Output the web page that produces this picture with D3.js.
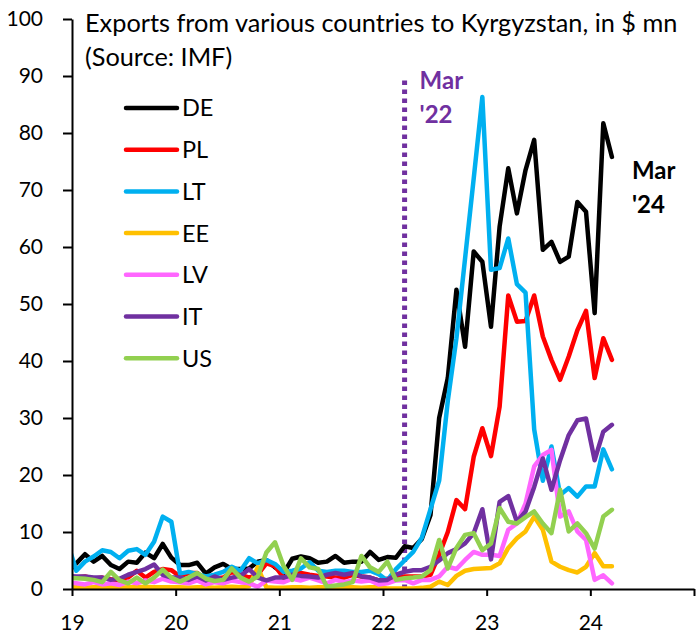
<!DOCTYPE html>
<html>
<head>
<meta charset="utf-8">
<script src="https://cdn.jsdelivr.net/npm/d3@7"></script>
<style>
body{margin:0;background:#fff;}
svg text{font-family:Lato,"Open Sans",sans-serif;fill:#000;}
</style>
</head>
<body>
<div id="chart"></div>
<script>
// monthly values, Dec 2018 .. Mar 2024 ($ mn). Dec 2018 lies left of the axis and is clipped
var startYear=2018, startMonth=12;
var countries=['DE','PL','LT','EE','LV','IT','US'];
var colors=['#000000','#FF0000','#00B0F0','#FFC000','#FF66FF','#7030A0','#92D050'];

var DE=[3.0,
    4.5,6.1,4.8,5.8,4.2,3.5,4.8,4.6,6.4,5.4,7.9,5.5,
    4.2,4.2,4.6,2.7,3.8,4.4,3.5,3.5,3.6,4.8,5.1,3.8,
    2.8,5.3,5.7,5.4,4.6,4.8,5.8,4.6,4.8,4.8,6.5,5.1,
    5.6,5.5,7.5,7.2,8.8,13,30,37,52.5,42.5,59.2,57.4,
    46,63.6,73.8,65.9,73.5,78.8,59.5,60.9,57.4,58.3,67.9,66.2,
    48.4,81.7,75.8];
var PL=[2.0,
    2.0,2.2,1.8,2.0,1.7,1.5,2.0,3.2,2.0,3.0,3.5,3.3,
    2.2,2.8,2.8,1.5,1.8,2.0,3.0,2.5,2.0,2.5,4.5,4.0,
    2.0,2.5,2.8,2.5,2.3,2.2,2.0,2.0,2.5,2.2,2.0,1.5,
    1.8,1.9,2.2,2.2,2.2,2.5,6.0,10.0,15.6,14.0,23.2,28.2,
    23.3,32.0,51.5,46.9,47.0,51.5,44.3,40.2,36.7,40.8,45.4,48.8,
    37.0,44.0,40.2];
var LT=[8.0,
    3.2,4.8,5.7,6.8,6.5,5.4,6.7,7.0,6.0,8.3,12.7,11.8,
    2.7,3.0,2.6,2.2,2.5,3.0,3.9,3.2,5.4,4.5,5.1,4.4,
    3.0,3.2,3.6,4.7,3.2,3.0,3.2,3.2,3.0,3.0,3.2,2.6,
    1.5,3.5,5.0,6.5,9.0,14.0,19.0,33.0,44.0,58.0,72.0,86.3,
    56.0,56.3,61.5,53.5,52.0,28.0,19.0,25.0,16.5,17.7,16.2,18.0,
    18.0,24.5,21.0];
var EE=[0.3,
    0.3,0.2,0.3,0.4,0.3,0.2,0.3,0.3,0.4,0.3,0.3,0.3,
    0.3,0.2,0.3,0.3,0.2,0.3,0.4,0.3,0.5,3.8,0.3,0.2,
    0.2,0.3,0.3,0.2,0.3,0.3,0.2,0.3,0.3,0.2,0.3,0.3,
    0.1,0.1,0.1,0.1,0.2,0.4,1.3,0.7,2.3,3.2,3.5,3.6,
    3.7,4.5,7.2,8.9,10.1,12.7,10.4,4.8,3.9,3.3,2.9,3.9,
    6.3,4.0,4.0];
var LV=[1.2,
    1.0,0.8,1.2,0.8,1.0,0.7,1.3,1.0,1.5,1.2,1.8,1.3,
    1.2,1.0,1.5,0.8,1.2,1.0,1.5,1.2,1.0,0.4,1.5,1.3,
    1.2,1.8,1.5,2.0,1.5,1.0,1.6,1.2,1.5,1.3,1.5,0.8,
    1.0,1.5,1.6,1.0,1.6,1.6,2.2,3.9,3.5,5.1,6.5,6.0,
    6.0,5.8,10.4,11.5,15.0,21.5,23.5,24.4,12.7,13.6,10.1,8.6,
    1.6,2.4,1.0];
var IT=[2.3,
    2.2,2.2,2.0,2.0,1.6,1.8,2.5,3.0,3.5,4.3,2.5,2.0,
    2.0,1.6,2.2,1.5,2.2,1.6,2.0,2.3,3.5,2.0,1.5,2.0,
    2.0,2.5,2.3,2.2,2.0,2.5,2.8,2.5,2.8,2.2,2.0,1.5,
    1.6,2.5,3.0,3.3,3.3,3.9,5.0,6.3,7.0,8.0,9.8,14.0,
    5.2,15.3,16.3,11.8,13.6,17.9,22.9,17.4,22.6,27.0,29.6,29.9,
    22.6,27.6,28.8];
var US=[2.0,
    1.9,1.8,1.6,1.2,3.0,1.5,1.0,2.0,1.0,2.0,3.4,2.0,
    1.3,2.0,2.8,1.8,1.4,1.6,3.6,2.0,1.3,2.2,6.4,8.2,
    4.0,1.6,5.4,3.8,3.5,0.4,0.6,0.8,1.2,5.8,3.8,3.0,
    4.8,1.6,1.9,2.0,2.2,3.3,8.6,3.6,7.2,9.5,9.8,6.8,
    8.0,14.2,11.8,11.5,12.6,13.6,11.5,9.8,17.4,10.1,11.5,9.8,
    7.1,12.7,13.9];

var yTicks=[0,10,20,30,40,50,60,70,80,90,100];
var xTicks=[19,20,21,22,23,24,25];
var xTickLabels=['19','20','21','22','23','24',''];
var titleLines=['Exports from various countries to Kyrgyzstan, in $ mn','(Source: IMF)'];
var eventMonth=[2022,3], eventTop=90;
var endLabel=["Mar","'24"];
var eventLabel=["Mar","'22"];

ExportChart=function(_parentElement,_series){
    this.parentElement=_parentElement;
    this.series=_series;
    this.initVis();
};

ExportChart.prototype.initVis=function(){
    var vis=this;
    vis.margin={left:72,right:3,top:19,bottom:47};
    vis.width=697-vis.margin.left-vis.margin.right;
    vis.height=636-vis.margin.top-vis.margin.bottom;

    vis.root=d3.select(vis.parentElement)
        .append('svg')
        .attr('width',697)
        .attr('height',636);
    vis.svg=vis.root.append('g')
        .attr('transform','translate('+vis.margin.left+','+vis.margin.top+')');

    vis.x=d3.scaleLinear().domain([19,25]).range([0,vis.width]);
    vis.y=d3.scaleLinear().domain([0,100]).range([vis.height,0]);

    // decimal year (2-digit) at mid-month
    vis.monthPos=function(year,month){
        return (year-2000)+(month-0.5)/12;
    };

    vis.svg.append('clipPath')
        .attr('id','plot-clip')
        .append('rect')
        .attr('x',0)
        .attr('y',-vis.margin.top)
        .attr('width',vis.width)
        .attr('height',vis.height+vis.margin.top);

    vis.updateVis();
};

ExportChart.prototype.updateVis=function(){
    var vis=this;

    vis.line=d3.line()
        .x(function(d){ return vis.x(d.t); })
        .y(function(d){ return vis.y(d.v); });

    vis.displayData=vis.series.map(function(s){
        return {
            name:s.name,
            color:s.color,
            values:s.values.map(function(v,i){
                var m=startMonth-1+i;
                return {t:vis.monthPos(startYear+Math.floor(m/12),m%12+1),v:v};
            })
        };
    });

    // event marker (dotted)
    var ex=vis.x(vis.monthPos(eventMonth[0],eventMonth[1]));
    vis.svg.append('line')
        .attr('x1',ex).attr('x2',ex)
        .attr('y1',vis.y(0)).attr('y2',vis.y(eventTop))
        .attr('stroke','#7030A0')
        .attr('stroke-width',5)
        .attr('stroke-dasharray','4.5,4.5');

    vis.svg.append('g')
        .attr('clip-path','url(#plot-clip)')
        .selectAll('path')
        .data(vis.displayData)
        .enter()
        .append('path')
        .attr('fill','none')
        .attr('stroke',function(d){ return d.color; })
        .attr('stroke-width',4.5)
        .attr('stroke-linejoin','round')
        .attr('stroke-linecap','round')
        .attr('d',function(d){ return vis.line(d.values); });

    // axes
    vis.yAxis=d3.axisLeft(vis.y)
        .tickValues(yTicks)
        .tickSizeInner(9)
        .tickSizeOuter(0)
        .tickPadding(20);
    vis.xAxis=d3.axisBottom(vis.x)
        .tickValues(xTicks)
        .tickSizeInner(7)
        .tickSizeOuter(0)
        .tickFormat(function(d,i){ return xTickLabels[i]; });

    var gy=vis.svg.append('g').attr('class','axis y-axis').call(vis.yAxis);
    var gx=vis.svg.append('g').attr('class','axis x-axis')
        .attr('transform','translate(0,'+vis.height+')')
        .call(vis.xAxis);
    [gx,gy].forEach(function(g){
        g.selectAll('path,line').attr('stroke','#000').attr('stroke-width',2);
        g.selectAll('text').attr('font-size',21).attr('font-family','Lato');
    });
    gx.selectAll('text').attr('dy',null).attr('y',41);

    // title
    vis.root.selectAll('.title')
        .data(titleLines)
        .enter()
        .append('text')
        .attr('class','title')
        .attr('x',85)
        .attr('y',function(d,i){ return 32+i*34; })
        .attr('font-size',25.3)
        .text(function(d){ return d; });

    // legend
    var leg=vis.root.selectAll('.legend')
        .data(vis.displayData)
        .enter()
        .append('g')
        .attr('class','legend')
        .attr('transform',function(d,i){ return 'translate(126,'+(108+i*41.7)+')'; });
    leg.append('line')
        .attr('x1',0).attr('x2',51)
        .attr('stroke',function(d){ return d.color; })
        .attr('stroke-width',4.5)
        .attr('stroke-linecap','round');
    leg.append('text')
        .attr('x',56)
        .attr('dy','0.36em')
        .attr('font-size',23.5)
        .text(function(d){ return d.name; });

    // annotations
    vis.svg.selectAll('.event-label')
        .data(eventLabel)
        .enter()
        .append('text')
        .attr('class','event-label')
        .attr('x',ex+15)
        .attr('y',function(d,i){ return 70+i*34; })
        .attr('font-size',24)
        .attr('font-weight','bold')
        .style('fill','#7030A0')
        .text(function(d){ return d; });

    var last=vis.displayData[0].values[vis.displayData[0].values.length-1];
    vis.svg.selectAll('.end-label')
        .data(endLabel)
        .enter()
        .append('text')
        .attr('class','end-label')
        .attr('x',vis.x(last.t)+20)
        .attr('y',function(d,i){ return 160+i*34; })
        .attr('font-size',24)
        .attr('font-weight','bold')
        .text(function(d){ return d; });
};

var seriesList=[DE,PL,LT,EE,LV,IT,US].map(function(values,i){
    return {name:countries[i],color:colors[i],values:values};
});
var chart=new ExportChart('#chart',seriesList);
</script>
</body>
</html>
